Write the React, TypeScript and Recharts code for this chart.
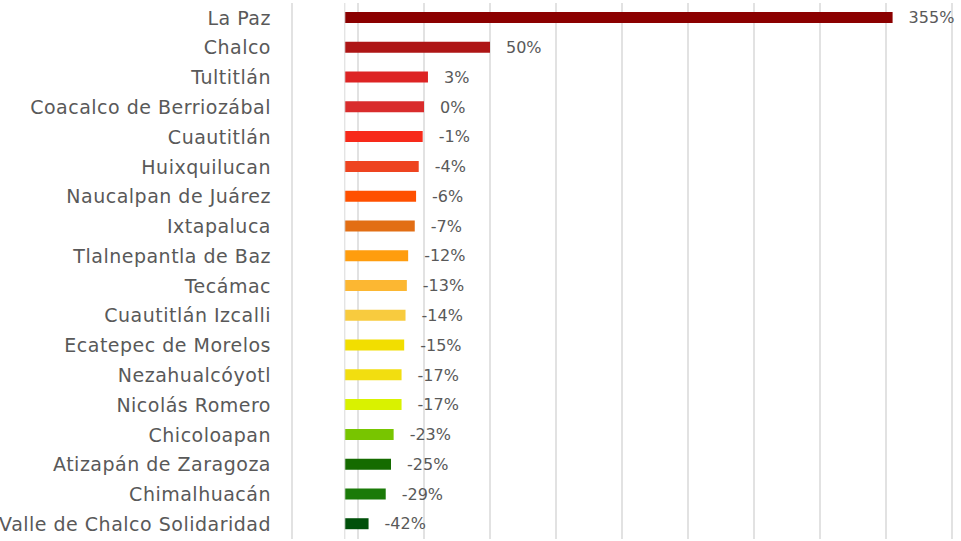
import React from "react";
import { BarChart, Bar, XAxis, YAxis, CartesianGrid, Cell, LabelList, ReferenceLine } from "recharts";

const categories = [
  "La Paz", "Chalco", "Tultitlán", "Coacalco de Berriozábal", "Cuautitlán", "Huixquilucan",
  "Naucalpan de Juárez", "Ixtapaluca", "Tlalnepantla de Baz", "Tecámac", "Cuautitlán Izcalli",
  "Ecatepec de Morelos", "Nezahualcóyotl", "Nicolás Romero", "Chicoloapan", "Atizapán de Zaragoza",
  "Chimalhuacán", "Valle de Chalco Solidaridad",
];
const values = [355, 50, 3, 0, -1, -4, -6, -7, -12, -13, -14, -15, -17, -17, -23, -25, -29, -42];
const colors = [
  "#8B0000", "#AE1515", "#DD2424", "#D92C2C", "#F72A1A", "#EE4420", "#FF5000", "#E26E14",
  "#FF9D0E", "#FCB732", "#F8CB3E", "#F2DE00", "#F2DE10", "#D9F200", "#78C500", "#156B00",
  "#1A7A08", "#00500A",
];
const axisBase = -60;
const gridTicks = [-100, -50, 0, 50, 100, 150, 200, 250, 300, 350, 400];

const data = categories.map((name, i) => ({ name, value: values[i], range: [axisBase, values[i]] }));

const FONT = "'DejaVu Sans', sans-serif";

export default function App() {
  return (
    <div style={{ position: "absolute", left: 0, top: 0, width: 961, height: 541, background: "#fff", overflow: "hidden" }}>
      <BarChart
        width={961}
        height={541}
        data={data}
        layout="vertical"
        margin={{ top: 3, right: 9, bottom: 2, left: 0 }}
        barCategoryGap={0}
      >
        <CartesianGrid horizontal={false} vertical={true} stroke="#D9D9D9" strokeWidth={1.5} />
        <XAxis type="number" domain={[-100, 400]} ticks={gridTicks} hide />
        <YAxis
          type="category"
          dataKey="name"
          width={292}
          axisLine={false}
          tickLine={false}
          tickSize={0}
          tickMargin={21}
          interval={0}
          tick={{ fill: "#595959", fontSize: 19, fontFamily: FONT, letterSpacing: 0.5 }}
        />
        <ReferenceLine x={axisBase} stroke="#D9D9D9" strokeWidth={1} />
        <Bar dataKey="range" barSize={11} isAnimationActive={false}>
          {data.map((d, i) => (
            <Cell key={d.name} fill={colors[i]} />
          ))}
          <LabelList
            dataKey="value"
            position="right"
            offset={16}
            formatter={(v: number) => `${v}%`}
            style={{ fill: "#595959", fontSize: 16, fontFamily: FONT }}
          />
        </Bar>
      </BarChart>
    </div>
  );
}
